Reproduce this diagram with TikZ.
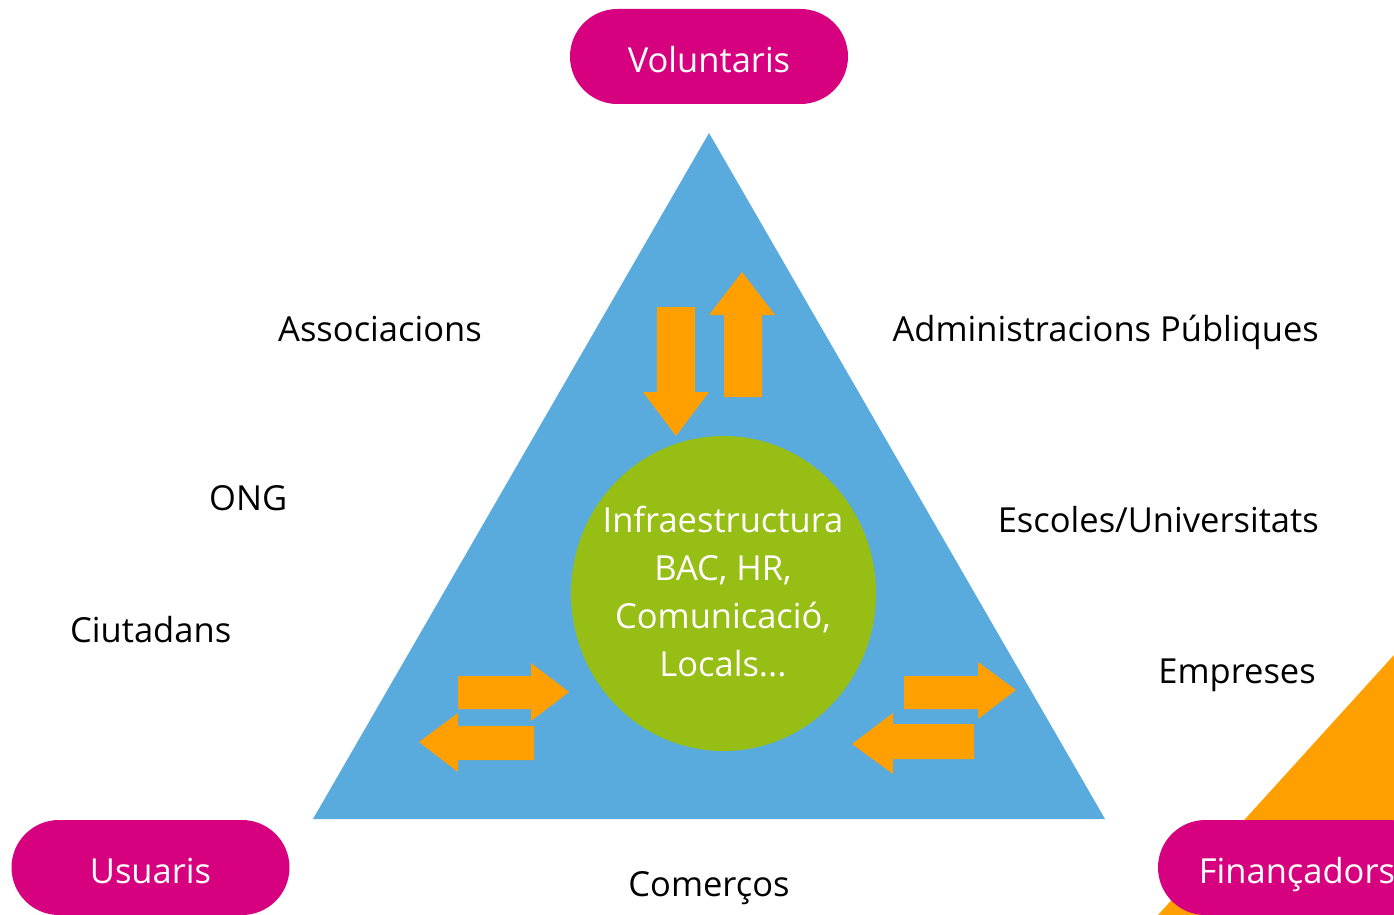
\documentclass[tikz,border=0pt]{standalone}
\usepackage{fontspec}
\setmainfont{Open Sans}
\usetikzlibrary{positioning,shapes.geometric}
\definecolor{skyblue}{HTML}{59AADD}
\definecolor{limegreen}{HTML}{96BE14}
\definecolor{magenta}{HTML}{D7007E}
\definecolor{amber}{HTML}{FFA000}

\begin{document}
\begin{tikzpicture}[x=1pt, y=-1pt,
  every node/.style={font=\fontsize{34.5}{48}\selectfont},
  pill/.style={rectangle, rounded corners=47.5pt, fill=magenta, text=white, minimum width=278pt, minimum height=95pt, inner sep=0pt, text height=32pt, text depth=0pt},
  label/.style={inner sep=0pt, text=black},
  blockarrow/.style={fill=amber, draw=none}]

\useasboundingbox (0,0) rectangle (1394,915);
\clip (0,0) rectangle (1394,915);
\fill[white] (0,0) rectangle (1394,915);

% Corner wedge
\fill[amber] (1394,655) -- (1158,915) -- (1394,915) -- cycle;

% Triangle
\fill[skyblue] (709,133) -- (313,819) -- (1105,819) -- cycle;

% Core ellipse
\node[ellipse, fill=limegreen, minimum width=305pt, minimum height=315pt, inner sep=0pt] (core) at (723.5,593.5) {};
\node[align=center, text=white, inner sep=0pt] (coretext) at (723,592) {Infraestructura\\BAC, HR,\\Comunicació,\\Locals...};

% Block arrows, top
\fill[blockarrow] (657,307) -- (695,307) -- (695,392) -- (709,392) -- (676,436) -- (643,392) -- (657,392) -- cycle;
\fill[blockarrow] (724,397) -- (762,397) -- (762,315) -- (775,315) -- (742,272) -- (709,315) -- (724,315) -- cycle;

% Block arrows, left
\fill[blockarrow] (458,676) -- (531,676) -- (531,663) -- (569,692) -- (531,721) -- (531,709) -- (458,709) -- cycle;
\fill[blockarrow] (534,726) -- (458,726) -- (458,713) -- (419,742) -- (458,772) -- (458,760) -- (534,760) -- cycle;

% Block arrows, right
\fill[blockarrow] (904,676) -- (978,676) -- (978,662) -- (1016,690) -- (978,719) -- (978,709) -- (904,709) -- cycle;
\fill[blockarrow] (974,724) -- (893,724) -- (893,713) -- (852,744) -- (893,774) -- (893,759) -- (974,759) -- cycle;

% Pills
\node[pill] (voluntaris) at (709,56.5) {Voluntaris};
\node[pill] (usuaris) at (150.5,867.5) {Usuaris};
\node[pill] (financadors) at (1297,867.5) {Finançadors};

% Surrounding labels
\node[label, anchor=base west] (associacions) at (278,341) {Associacions};
\node[label, anchor=base west] (ong) at (209,510) {ONG};
\node[label, anchor=base west] (ciutadans) at (70,642) {Ciutadans};
\node[label, anchor=base east] (administracions) at (1319,341) {Administracions Públiques};
\node[label, anchor=base east] (escoles) at (1319,532) {Escoles/Universitats};
\node[label, anchor=base east] (empreses) at (1316,683) {Empreses};
\node[label, anchor=base] (comercos) at (709,896) {Comerços};

\end{tikzpicture}
\end{document}
